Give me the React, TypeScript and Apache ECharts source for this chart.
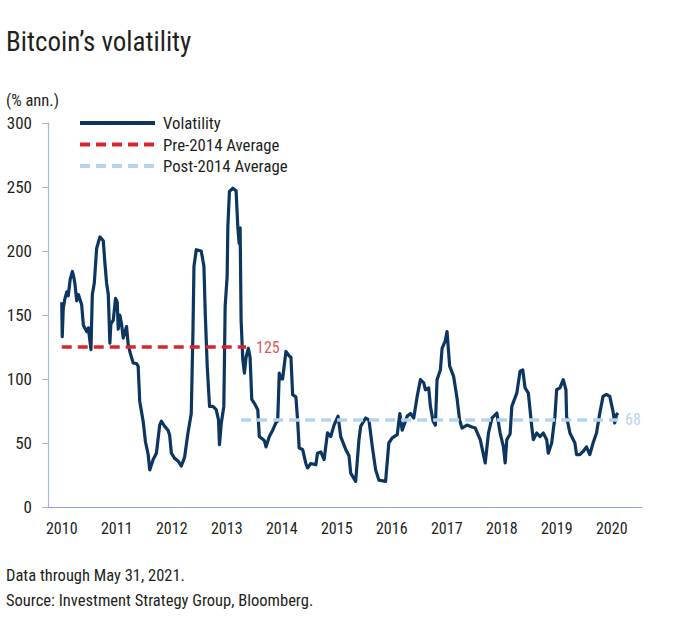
import React, { useEffect, useRef } from "react";
import * as echarts from "echarts";

const years: number[] = [
  2010.0, 2010.009, 2010.027, 2010.054, 2010.091, 2010.118, 2010.154, 2010.194, 2010.217, 2010.241,
  2010.272, 2010.303, 2010.362, 2010.393, 2010.453, 2010.484, 2010.531, 2010.556, 2010.592, 2010.634,
  2010.694, 2010.755, 2010.784, 2010.815, 2010.846, 2010.875, 2010.893, 2010.937, 2010.978, 2011.009,
  2011.027, 2011.056, 2011.087, 2011.118, 2011.178, 2011.208, 2011.237, 2011.268, 2011.299, 2011.359,
  2011.389, 2011.418, 2011.48, 2011.522, 2011.571, 2011.6, 2011.661, 2011.721, 2011.781, 2011.812,
  2011.871, 2011.933, 2011.962, 2011.993, 2012.053, 2012.114, 2012.174, 2012.234, 2012.295, 2012.355,
  2012.386, 2012.404, 2012.446, 2012.536, 2012.585, 2012.609, 2012.645, 2012.687, 2012.748, 2012.808,
  2012.85, 2012.868, 2012.899, 2012.947, 2012.971, 2013.007, 2013.02, 2013.049, 2013.111, 2013.17,
  2013.201, 2013.225, 2013.243, 2013.261, 2013.292, 2013.321, 2013.351, 2013.393, 2013.424, 2013.455,
  2013.502, 2013.564, 2013.592, 2013.683, 2013.714, 2013.774, 2013.835, 2013.895, 2013.926, 2013.955,
  2013.986, 2014.016, 2014.076, 2014.136, 2014.167, 2014.198, 2014.257, 2014.288, 2014.317, 2014.379,
  2014.438, 2014.469, 2014.529, 2014.62, 2014.65, 2014.71, 2014.77, 2014.832, 2014.891, 2014.951,
  2015.024, 2015.072, 2015.163, 2015.223, 2015.254, 2015.344, 2015.404, 2015.435, 2015.525, 2015.585,
  2015.647, 2015.707, 2015.766, 2015.888, 2015.947, 2016.009, 2016.1, 2016.147, 2016.19, 2016.281,
  2016.341, 2016.4, 2016.462, 2016.522, 2016.582, 2016.612, 2016.672, 2016.703, 2016.752, 2016.793,
  2016.824, 2016.884, 2016.915, 2016.975, 2017.005, 2017.053, 2017.125, 2017.187, 2017.234, 2017.277,
  2017.368, 2017.458, 2017.518, 2017.609, 2017.699, 2017.759, 2017.821, 2017.911, 2017.971, 2018.031,
  2018.062, 2018.092, 2018.152, 2018.183, 2018.274, 2018.333, 2018.382, 2018.424, 2018.484, 2018.545,
  2018.574, 2018.636, 2018.696, 2018.755, 2018.817, 2018.846, 2018.908, 2018.967, 2018.998, 2019.058,
  2019.118, 2019.167, 2019.179, 2019.239, 2019.33, 2019.36, 2019.42, 2019.48, 2019.54, 2019.601,
  2019.66, 2019.723, 2019.783, 2019.842, 2019.903, 2019.964, 2020.023, 2020.054, 2020.085, 2020.114,
];

const volatility: number[] = [
  160, 133, 155, 162, 168, 165, 178, 184, 180, 174,
  161, 166, 158, 142, 137, 140, 123, 166, 175, 202,
  211, 208, 191, 175, 166, 128, 143, 146, 163, 160,
  139, 150, 143, 132, 141, 127, 121.5, 117, 112.5, 112,
  110, 82.5, 67, 51, 41, 29, 37, 42, 64, 67,
  63, 60, 56, 42, 38, 36, 32, 39, 58, 73,
  138.5, 188, 201, 200, 188, 151.5, 110, 78.6, 78.6, 76,
  68, 48.7, 65, 78.6, 157, 180, 219, 246.6, 249, 247,
  219, 206, 218, 146, 115, 104.6, 117, 124, 117, 84,
  81, 76, 55, 52, 47, 55, 60, 66, 67, 104.6,
  100, 100, 121.5, 118, 117, 87.7, 86, 68, 46, 45,
  34, 30.5, 34, 33, 42, 43, 37, 58, 55, 64,
  71, 55, 45, 40, 26.5, 20, 52.6, 63, 69.5, 68,
  47, 29, 21, 20, 50, 54, 56.5, 73, 60, 71,
  73, 69.5, 86.4, 99.5, 97, 91.6, 93, 78.6, 67, 64,
  99.5, 107, 124, 130, 137, 110, 102, 85, 68, 61.7,
  64, 62.5, 61.7, 52.6, 34.4, 57.8, 69.5, 73.4, 57.8, 47,
  34.4, 52.6, 57, 78.6, 89, 106, 107, 93, 89, 63,
  52.6, 57.8, 55, 57.8, 52.6, 42, 50, 70.8, 91.6, 93,
  99.5, 91.6, 70.8, 57.8, 50, 40.9, 40.9, 43.4, 47, 40.9,
  50, 57.8, 73.4, 86.4, 88, 86.4, 74.7, 65.6, 72, 73.4,
];

const preAvgValue = 125;
const preAvgRange: number[] = [2010.0, 2013.351];
const postAvgValue = 68;
const postAvgRange: number[] = [2013.261, 2020.114];
const yearTicks: number[] = [2010, 2011, 2012, 2013, 2014, 2015, 2016, 2017, 2018, 2019, 2020];
const legendNames: string[] = ["Volatility", "Pre-2014 Average", "Post-2014 Average"];

const NAVY = "#0c365f";
const RED = "#d9262e";
const LIGHT = "#b5d3ec";
const FONT = "'Liberation Sans Narrow', 'Arial Narrow', 'Roboto Condensed', Roboto, sans-serif";
const TEXT = "#231f20";

export default function App() {
  const ref = useRef<HTMLDivElement>(null);
  useEffect(() => {
    if (!ref.current) return;
    const chart = echarts.init(ref.current, undefined, { renderer: "svg" });
    const volData = years.map((y, i) => [y, volatility[i]]);
    const legendColors = [NAVY, RED, LIGHT];
    const legendDash = [null, [10, 6], [10, 6]];
    const legendY = [123, 144.5, 166];
    const legendGraphics: any[] = [];
    legendNames.forEach((name, i) => {
      legendGraphics.push({
        type: "line",
        shape: { x1: 80, y1: legendY[i], x2: 155, y2: legendY[i] },
        style: { stroke: legendColors[i], lineWidth: 4, lineDash: legendDash[i] || undefined },
      });
      legendGraphics.push({
        type: "text",
        x: 163,
        y: legendY[i],
        style: { text: name, font: `16.8px ${FONT}`, fill: TEXT, textVerticalAlign: "middle" },
      });
    });
    chart.setOption({
      animation: false,
      grid: { left: 48, right: 33, top: 123, bottom: 118, containLabel: false },
      xAxis: {
        type: "value",
        min: 2009.75,
        max: 2020.55,
        interval: 0.25,
        axisLine: { show: true, lineStyle: { color: "#8ea6d2", width: 1.2 } },
        axisTick: { show: false },
        splitLine: { show: false },
        axisLabel: {
          color: TEXT,
          fontFamily: FONT,
          fontSize: 16,
          margin: 13,
          showMinLabel: false,
          showMaxLabel: false,
          formatter: (v: number) => {
            const r = Math.round(v);
            return Math.abs(v - r) < 1e-6 && yearTicks.includes(r) ? String(r) : "";
          },
        },
      },
      yAxis: {
        type: "value",
        min: 0,
        max: 300,
        interval: 50,
        axisLine: { show: true, lineStyle: { color: "#a9b9d3", width: 1.2 } },
        axisTick: { show: true, length: 6, lineStyle: { color: "#a9b9d3" } },
        splitLine: { show: false },
        axisLabel: { color: TEXT, fontFamily: FONT, fontSize: 17, margin: 16 },
      },
      series: [
        {
          name: "Pre-2014 Average",
          type: "line",
          data: preAvgRange.map((x) => [x, preAvgValue]),
          showSymbol: false,
          lineStyle: { color: RED, width: 3.5, type: [10, 6] },
          endLabel: {
            show: true,
            formatter: String(preAvgValue),
            color: "#e0575b",
            fontFamily: FONT,
            fontSize: 16,
            distance: 10,
          },
          z: 3,
        },
        {
          name: "Post-2014 Average",
          type: "line",
          data: postAvgRange.map((x) => [x, postAvgValue]),
          showSymbol: false,
          lineStyle: { color: LIGHT, width: 3.5, type: [10, 6] },
          endLabel: {
            show: true,
            formatter: String(postAvgValue),
            color: "#bcd4ea",
            fontFamily: FONT,
            fontSize: 16,
            distance: 7,
          },
          z: 3,
        },
        {
          name: "Volatility",
          type: "line",
          data: volData,
          showSymbol: false,
          lineStyle: { color: NAVY, width: 3.2, join: "round" },
          z: 2,
        },
      ],
      graphic: [
        {
          type: "text",
          left: 6,
          top: 28,
          style: { text: "Bitcoin\u2019s volatility", font: `27px ${FONT}`, fill: TEXT },
        },
        {
          type: "text",
          left: 6,
          top: 92,
          style: { text: "(% ann.)", font: `16.5px ${FONT}`, fill: TEXT },
        },
        {
          type: "text",
          left: 6,
          top: 567,
          style: { text: "Data through May 31, 2021.", font: `16.5px ${FONT}`, fill: TEXT },
        },
        {
          type: "text",
          left: 6,
          top: 592,
          style: { text: "Source: Investment Strategy Group, Bloomberg.", font: `16.5px ${FONT}`, fill: TEXT },
        },
        ...legendGraphics,
      ],
    });
    return () => chart.dispose();
  }, []);
  return (
    <div
      ref={ref}
      style={{ position: "fixed", left: 0, top: 0, width: 675, height: 625, background: "#fff" }}
    />
  );
}
